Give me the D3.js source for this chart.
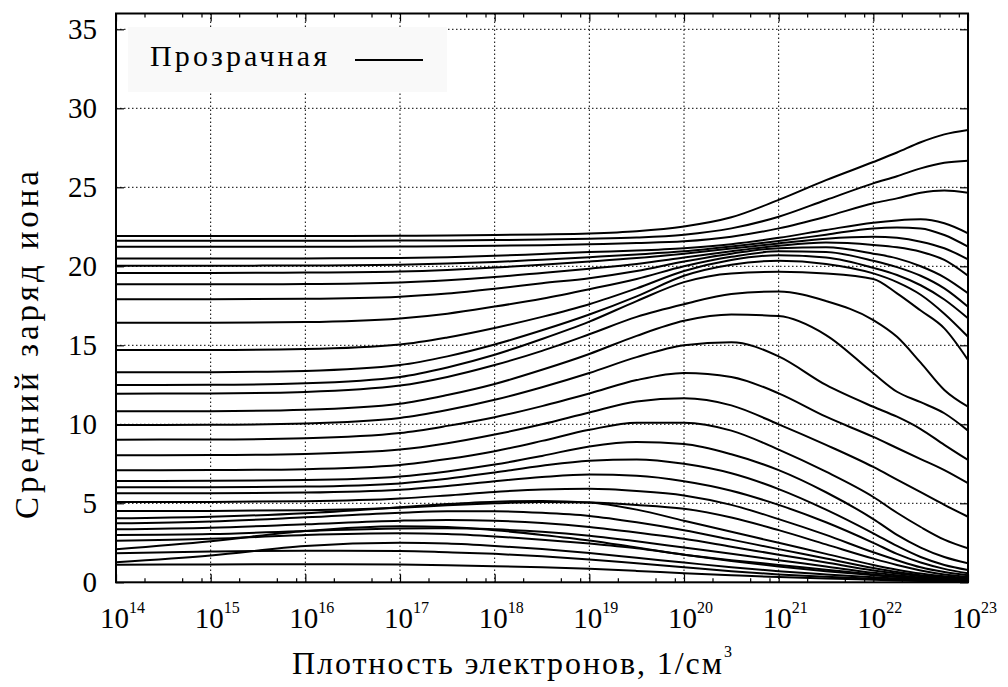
<!DOCTYPE html>
<html>
<head>
<meta charset="utf-8">
<script src="https://cdn.jsdelivr.net/npm/d3@7"></script>
<style>
  html, body { margin: 0; padding: 0; background: #fff; }
  text { font-family: 'Liberation Serif', 'DejaVu Serif', 'Times New Roman', Times, serif; }
</style>
</head>
<body>
<svg id="chart" width="1008" height="687"></svg>
<script>
// Electron density grid (1/cm^3) shared by all curves
const density = [1e14, 1e15, 1e16, 1e17, 3.162e17, 1e18, 3.162e18, 1e19, 3.162e19,
                 1e20, 3.162e20, 1e21, 3.162e21, 1e22, 1.778e22, 3.162e22, 5.623e22, 1e23];

// Mean ion charge along the density grid, one array per curve (top to bottom)
const z01 = [21.92,21.92,21.92,21.93,21.95,21.98,22.02,22.08,22.22,22.52,23.10,24.20,25.45,26.60,27.20,27.85,28.35,28.63];
const z02 = [21.62,21.62,21.62,21.63,21.64,21.66,21.69,21.74,21.82,22.00,22.40,23.14,24.20,25.25,25.70,26.20,26.55,26.68];
const z03 = [21.24,21.24,21.24,21.25,21.27,21.30,21.34,21.40,21.47,21.58,21.87,22.40,23.14,23.99,24.30,24.66,24.80,24.66];
const z04 = [20.50,20.50,20.50,20.53,20.58,20.66,20.78,20.90,21.00,21.15,21.40,21.80,22.30,22.76,22.90,22.97,22.72,22.09];
const z05 = [20.04,20.04,20.05,20.10,20.17,20.27,20.42,20.58,20.75,20.95,21.25,21.60,22.00,22.40,22.45,22.40,21.98,21.24];
const z06 = [19.58,19.58,19.60,19.67,19.77,19.92,20.10,20.30,20.52,20.80,21.12,21.45,21.75,21.87,21.80,21.56,21.14,20.44];
const z07 = [18.86,18.86,18.88,18.98,19.12,19.32,19.58,19.85,20.15,20.55,20.95,21.30,21.50,21.35,21.20,20.92,20.40,19.40];
const z08 = [17.91,17.91,17.94,18.08,18.28,18.58,18.93,19.25,19.70,20.30,20.80,21.15,21.20,20.80,20.50,20.00,19.30,18.29];
const z09 = [16.43,16.43,16.47,16.70,17.00,17.45,17.95,18.55,19.20,20.00,20.60,20.95,20.90,20.35,19.95,19.40,18.60,17.44];
const z10 = [14.70,14.70,14.76,15.05,15.50,16.10,16.80,17.60,18.60,19.70,20.40,20.70,20.55,19.90,19.45,18.80,17.90,16.71];
const z11 = [13.29,13.30,13.38,13.75,14.30,15.05,15.95,16.95,18.10,19.40,20.10,20.35,20.15,19.55,19.00,18.20,17.00,15.54];
const z12 = [12.49,12.50,12.60,13.00,13.60,14.40,15.40,16.50,17.80,19.00,19.55,19.65,19.55,19.20,18.29,17.20,16.07,14.07];
const z13 = [11.94,11.95,12.05,12.45,13.00,13.75,14.65,15.70,16.80,17.60,18.25,18.40,17.80,16.60,15.54,13.90,12.17,11.11];
const z14 = [10.82,10.83,10.92,11.30,11.85,12.55,13.45,14.45,15.60,16.55,16.95,16.85,15.65,13.23,12.06,11.40,10.70,9.60];
const z15 = [9.96,9.97,10.05,10.40,10.90,11.55,12.35,13.25,14.25,15.00,15.20,14.30,12.49,11.11,10.48,9.70,8.70,7.74];
const z16 = [9.03,9.04,9.12,9.45,9.90,10.45,11.15,11.95,12.80,13.25,13.00,11.96,10.48,9.20,8.50,7.80,7.10,6.27];
const z17 = [8.04,8.05,8.12,8.40,8.80,9.35,10.00,10.75,11.45,11.65,11.20,10.00,8.70,7.30,6.50,5.70,4.90,4.15];
const z18 = [7.09,7.10,7.16,7.42,7.80,8.30,8.95,9.65,10.10,10.10,9.60,8.40,7.00,5.40,4.40,3.50,2.70,2.15];
const z19 = [6.41,6.42,6.47,6.70,7.02,7.45,8.00,8.60,8.88,8.75,8.10,7.10,5.70,4.00,3.00,2.20,1.60,1.20];
const z20 = [6.01,6.02,6.06,6.26,6.55,6.95,7.38,7.70,7.78,7.50,6.90,5.90,4.60,3.10,2.30,1.60,1.10,0.78];
const z21 = [5.63,5.64,5.68,5.86,6.10,6.40,6.66,6.82,6.74,6.40,5.80,4.90,3.80,2.50,1.80,1.25,0.85,0.57];
const z22 = [5.08,5.09,5.13,5.30,5.50,5.72,5.88,5.92,5.78,5.50,4.90,4.00,3.00,1.90,1.40,0.95,0.65,0.45];
const z23 = [4.51,4.52,4.56,4.72,4.88,5.00,5.08,5.05,4.90,4.65,4.10,3.30,2.40,1.50,1.10,0.75,0.50,0.35];
const z24 = [4.05,4.15,4.37,4.75,4.95,5.10,5.15,5.05,4.60,3.90,3.20,2.50,1.80,1.10,0.80,0.55,0.38,0.27];
const z25 = [3.73,3.85,4.11,4.40,4.50,4.50,4.40,4.20,3.80,3.30,2.70,2.10,1.50,0.90,0.65,0.45,0.32,0.22];
const z26 = [3.35,3.45,3.67,3.90,3.95,3.90,3.75,3.50,3.15,2.75,2.25,1.75,1.25,0.75,0.55,0.38,0.26,0.18];
const z27 = [2.99,3.05,3.25,3.40,3.42,3.35,3.20,2.95,2.60,2.20,1.80,1.40,1.00,0.60,0.45,0.30,0.20,0.14];
const z28 = [2.63,2.75,2.99,3.10,3.05,2.90,2.70,2.45,2.15,1.75,1.40,1.10,0.80,0.50,0.36,0.25,0.17,0.12];
const z29 = [2.09,2.60,3.25,3.55,3.50,3.30,3.00,2.65,2.20,1.75,1.35,1.00,0.70,0.45,0.33,0.23,0.16,0.11];
const z30 = [1.84,1.95,2.00,1.98,1.90,1.80,1.65,1.45,1.20,0.95,0.70,0.50,0.35,0.22,0.17,0.12,0.09,0.07];
const z31 = [1.27,1.70,2.30,2.50,2.45,2.30,2.10,1.85,1.55,1.25,0.95,0.70,0.50,0.32,0.24,0.17,0.12,0.09];
const z32 = [1.11,1.13,1.14,1.12,1.08,1.02,0.95,0.85,0.72,0.58,0.45,0.33,0.24,0.16,0.12,0.09,0.07,0.05];

const curves = [z01,z02,z03,z04,z05,z06,z07,z08,z09,z10,z11,z12,z13,z14,z15,z16,
                z17,z18,z19,z20,z21,z22,z23,z24,z25,z26,z27,z28,z29,z30,z31,z32];

// Axis ticks and labels
const xMajorExp = [14, 15, 16, 17, 18, 19, 20, 21, 22, 23];
const xMinorMult = [2, 5, 8];
const yMajor = [0, 5, 10, 15, 20, 25, 30, 35];
const legendLabel = "Прозрачная";
const xTitle = "Плотность электронов, 1/см";
const xTitleSup = "3";
const yTitle = "Средний заряд иона";

const svg = d3.select("#chart");
const L = 116, R = 968, T = 13.5, B = 582.3;

const x = d3.scaleLog().domain([1e14, 1e23]).range([L, R]);
const y = d3.scaleLinear().domain([0, 36]).range([B, T]);

const xMajor = xMajorExp.map(e => Math.pow(10, e));
const xMinor = [];
xMajorExp.slice(0, -1).forEach(e => xMinorMult.forEach(m => xMinor.push(m * Math.pow(10, e))));

// Dotted grid
const grid = svg.append("g").attr("stroke", "#000").attr("stroke-width", 1)
  .attr("stroke-dasharray", "1.5,2.5");
grid.selectAll("line.gx").data(xMajor.slice(1, -1)).join("line")
  .attr("x1", d => x(d)).attr("x2", d => x(d)).attr("y1", T).attr("y2", B);
grid.selectAll("line.gy").data(yMajor.slice(1)).join("line")
  .attr("x1", L).attr("x2", R).attr("y1", d => y(d)).attr("y2", d => y(d));

// Curves
const line = d3.line()
  .x((d, i) => x(density[i]))
  .y(d => y(d))
  .curve(d3.curveMonotoneX);

const plot = svg.append("g");
plot.append("defs").append("clipPath").attr("id", "clip")
  .append("rect").attr("x", L).attr("y", T).attr("width", R - L).attr("height", B - T);
plot.append("g").attr("clip-path", "url(#clip)")
  .selectAll("path").data(curves).join("path")
  .attr("d", line)
  .attr("fill", "none")
  .attr("stroke", "#000")
  .attr("stroke-width", 2)
  .attr("stroke-linejoin", "round");

// Axes with inward ticks on all four sides
function styleAxis(g) {
  g.select(".domain").remove();
  g.selectAll(".tick line").attr("stroke", "#000").attr("stroke-width", 1.2);
  g.selectAll(".tick text").remove();
}
svg.append("g").attr("transform", `translate(0,${B})`)
  .call(d3.axisBottom(x).tickValues(xMajor).tickSize(-8).tickFormat("")).call(styleAxis);
svg.append("g").attr("transform", `translate(0,${B})`)
  .call(d3.axisBottom(x).tickValues(xMinor).tickSize(-4).tickFormat("")).call(styleAxis);
svg.append("g").attr("transform", `translate(0,${T})`)
  .call(d3.axisTop(x).tickValues(xMajor).tickSize(-8).tickFormat("")).call(styleAxis);
svg.append("g").attr("transform", `translate(0,${T})`)
  .call(d3.axisTop(x).tickValues(xMinor).tickSize(-4).tickFormat("")).call(styleAxis);
svg.append("g").attr("transform", `translate(${L},0)`)
  .call(d3.axisLeft(y).tickValues(yMajor).tickSize(-8).tickFormat("")).call(styleAxis);
svg.append("g").attr("transform", `translate(${R},0)`)
  .call(d3.axisRight(y).tickValues(yMajor).tickSize(-8).tickFormat("")).call(styleAxis);

// Frame
svg.append("rect").attr("x", L).attr("y", T).attr("width", R - L).attr("height", B - T)
  .attr("fill", "none").attr("stroke", "#000").attr("stroke-width", 2);

// Y tick labels
svg.append("g").selectAll("text").data(yMajor).join("text")
  .attr("x", 97).attr("y", d => y(d) + 10)
  .attr("text-anchor", "end")
  .attr("font-size", 29)
  .text(d => d);

// X tick labels: 10 with superscript exponent
const xl = svg.append("g").selectAll("text").data(xMajorExp).join("text")
  .attr("x", d => x(Math.pow(10, d)) - 16).attr("y", 628)
  .attr("font-size", 29);
xl.append("tspan").text("10");
xl.append("tspan").attr("dy", -15).attr("font-size", 16).text(d => d);

// Axis titles
const xt = svg.append("text").attr("x", 292).attr("y", 674)
  .attr("font-size", 32);
xt.append("tspan").attr("textLength", 430).attr("lengthAdjust", "spacing").text(xTitle);
xt.append("tspan").attr("dy", -17).attr("font-size", 16).text(xTitleSup);

svg.append("text")
  .attr("transform", "translate(38,345) rotate(-90)")
  .attr("text-anchor", "middle").attr("font-size", 33)
  .attr("textLength", 348).attr("lengthAdjust", "spacing")
  .text(yTitle);

// Legend
const lg = svg.append("g");
lg.append("rect").attr("x", 128).attr("y", 27).attr("width", 319).attr("height", 65)
  .attr("fill", "#f9f9f9");
lg.append("text").attr("x", 150).attr("y", 66)
  .attr("font-size", 30).attr("textLength", 177).attr("lengthAdjust", "spacing")
  .text(legendLabel);
lg.append("line").attr("x1", 355).attr("x2", 423).attr("y1", 60).attr("y2", 60)
  .attr("stroke", "#000").attr("stroke-width", 2);
</script>
</body>
</html>
